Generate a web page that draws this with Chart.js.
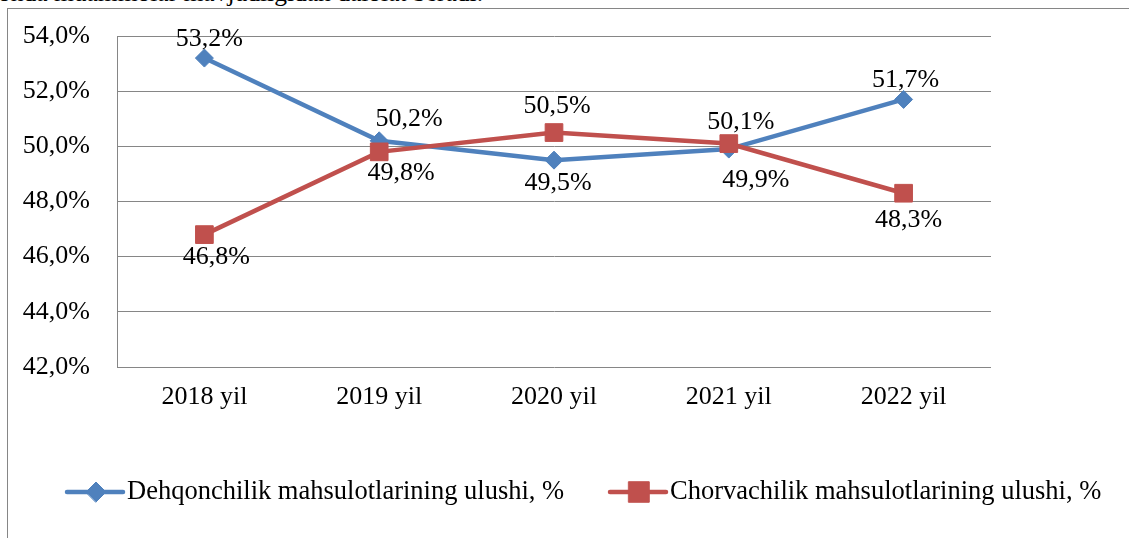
<!DOCTYPE html>
<html>
<head>
<meta charset="utf-8">
<script src="https://cdn.jsdelivr.net/npm/chart.js@4.4.0/dist/chart.umd.min.js"></script>
<style>
    html, body { margin: 0; padding: 0; background: #fff; overflow: hidden; }
    #page { position: relative; width: 1129px; height: 538px; overflow: hidden; }
    #prev-text {
        position: absolute; left: -2px; top: -19px;
        font: 25.5px/24px 'Liberation Serif', 'Times New Roman', serif;
        color: #000; white-space: nowrap;
    }
    #chart-box {
        position: absolute; left: 7px; top: 8px; width: 1300px; height: 700px;
        border: 1px solid #868686; box-sizing: border-box;
    }
    #chart { position: absolute; left: 0; top: 0; }
</style>
</head>
<body>
<div id="page">
    <div id="prev-text">onda muammolar mavjudligidan dalolat beradi.</div>
    <div id="chart-box"></div>
    <canvas id="chart" width="1129" height="538"></canvas>
</div>
<script>
const years = ['2018 yil', '2019 yil', '2020 yil', '2021 yil', '2022 yil'];
const dehqonchilik = [53.2, 50.2, 49.5, 49.9, 51.7];
const chorvachilik = [46.8, 49.8, 50.5, 50.1, 48.3];
const seriesNames = ['Dehqonchilik mahsulotlarining ulushi, %', 'Chorvachilik mahsulotlarining ulushi, %'];
const yMin = 42;
const yMax = 54;
const yStep = 2;
// value labels were nudged by hand in the original, so keep their shift from the point
const dehqonLabelDx = [5, 30, 4, 27, 2];
const dehqonLabelDy = [-12, -15, 30, 38, -12];
const chorvaLabelDx = [12, 22, 3, 12, 5];
const chorvaLabelDy = [29, 28, -20, -15, 34];

const BLUE = '#4F81BD';
const RED = '#C0504D';
const GRID = '#868686';
const FONT = '"Liberation Serif", "Times New Roman", serif';

function pct(v) {
    return v.toFixed(1).replace('.', ',') + '%';
}

const valueLabels = {
    id: 'valueLabels',
    afterDatasetsDraw(chart) {
        const ctx = chart.ctx;
        const dx = [dehqonLabelDx, chorvaLabelDx];
        const dy = [dehqonLabelDy, chorvaLabelDy];
        ctx.save();
        ctx.font = '26px ' + FONT;
        ctx.fillStyle = '#000';
        ctx.textAlign = 'center';
        ctx.textBaseline = 'alphabetic';
        chart.data.datasets.forEach(function(ds, i) {
            const meta = chart.getDatasetMeta(i);
            meta.data.forEach(function(pt, j) {
                ctx.fillText(pct(ds.data[j]), pt.x + dx[i][j], pt.y + dy[i][j]);
            });
        });
        ctx.restore();
    }
};

// legend drawn as line + marker like the office chart
const lineLegend = {
    id: 'lineLegend',
    afterDraw(chart) {
        const ctx = chart.ctx;
        const startX = [67, 610];
        const markerR = [10, 14.5];
        const y = 492;
        ctx.save();
        chart.data.datasets.forEach(function(ds, i) {
            const x = startX[i];
            ctx.strokeStyle = ds.borderColor;
            ctx.lineWidth = ds.borderWidth;
            ctx.lineCap = 'round';
            ctx.beginPath();
            ctx.moveTo(x, y);
            ctx.lineTo(x + 56, y);
            ctx.stroke();
            ctx.fillStyle = ds.pointBackgroundColor;
            ctx.strokeStyle = ds.pointBorderColor;
            ctx.lineWidth = 1;
            Chart.helpers.drawPoint(ctx, {
                pointStyle: ds.pointStyle,
                radius: markerR[i],
                rotation: 0,
                borderWidth: 1
            }, x + 29, y);
            ctx.font = '26.5px ' + FONT;
            ctx.fillStyle = '#000';
            ctx.textAlign = 'left';
            ctx.textBaseline = 'alphabetic';
            ctx.fillText(ds.label, x + 60, y + 7);
        });
        ctx.restore();
    }
};

function drawChart() {
    new Chart(document.getElementById('chart'), {
        type: 'line',
        data: {
            labels: years,
            datasets: [{
                label: seriesNames[0],
                data: dehqonchilik,
                borderColor: BLUE,
                backgroundColor: BLUE,
                borderWidth: 4.5,
                pointStyle: 'rectRot',
                pointRadius: 9,
                pointBackgroundColor: BLUE,
                pointBorderColor: BLUE,
                pointBorderWidth: 1,
                tension: 0,
                order: 1
            }, {
                label: seriesNames[1],
                data: chorvachilik,
                borderColor: RED,
                backgroundColor: RED,
                borderWidth: 4.5,
                pointStyle: 'rect',
                pointRadius: 12.5,
                pointBackgroundColor: RED,
                pointBorderColor: RED,
                pointBorderWidth: 1,
                tension: 0,
                order: 0
            }]
        },
        options: {
            responsive: false,
            animation: false,
            devicePixelRatio: 1,
            layout: {
                padding: { top: 36, left: 0, right: 138, bottom: 0 }
            },
            plugins: {
                legend: { display: false },
                tooltip: { enabled: false }
            },
            scales: {
                x: {
                    offset: true,
                    grid: { display: false, drawTicks: false },
                    border: { display: false },
                    ticks: {
                        color: '#000',
                        font: { family: FONT, size: 26 },
                        padding: 15,
                        maxRotation: 0,
                        autoSkip: false
                    },
                    afterFit: function(scale) {
                        scale.height = 538 - 367;
                    }
                },
                y: {
                    min: yMin,
                    max: yMax,
                    grid: { color: GRID, lineWidth: 1, drawTicks: false },
                    border: { display: true, color: GRID, width: 1 },
                    ticks: {
                        stepSize: yStep,
                        color: '#000',
                        font: { family: FONT, size: 26 },
                        padding: 27,
                        callback: function(value) { return pct(value); }
                    },
                    afterFit: function(scale) {
                        scale.width = 117;
                        // tick padding is only meant to push labels left
                        scale.paddingTop = 0;
                        scale.paddingBottom = 0;
                    }
                }
            }
        },
        plugins: [valueLabels, lineLegend]
    });
}

if (document.fonts && document.fonts.load) {
    document.fonts.load('26px "Liberation Serif"').then(drawChart, drawChart);
} else {
    drawChart();
}
</script>
</body>
</html>
